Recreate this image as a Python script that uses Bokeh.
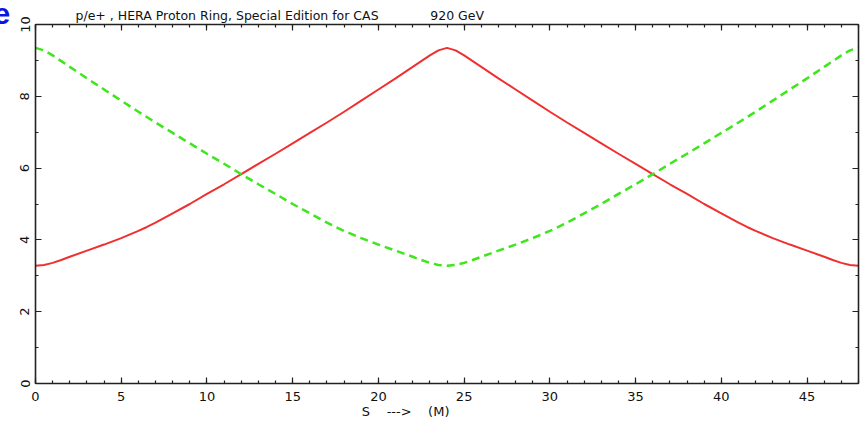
from bokeh.plotting import figure
from bokeh.models import (LinearAxis, SingleIntervalTicker, Range1d, Label, Title)
from bokeh.embed import file_html
from bokeh.resources import INLINE

# ---- data ----
s_red = [0, 0.5, 1, 1.5, 2, 3, 4, 5, 6, 6.5, 7, 8, 9, 10, 11, 12, 13, 14, 15,
         16, 17, 18, 19, 20, 21, 22, 22.5, 23, 23.5, 24,
         24.5, 25, 25.5, 26, 27, 28, 29, 30, 31, 32, 33, 34, 35, 36, 37, 38,
         39, 40, 41, 41.5, 42, 43, 44, 45, 46, 46.5, 47, 47.5, 48]
beta_red = [3.28, 3.30, 3.36, 3.44, 3.53, 3.70, 3.87, 4.05, 4.25, 4.36, 4.48,
            4.74, 5.00, 5.28, 5.55, 5.83, 6.12, 6.40, 6.69, 6.98, 7.27, 7.57,
            7.88, 8.19, 8.50, 8.82, 8.98, 9.14, 9.28, 9.35,
            9.28, 9.14, 8.98, 8.82, 8.50, 8.19, 7.88, 7.57, 7.27, 6.98, 6.69,
            6.40, 6.12, 5.83, 5.55, 5.28, 5.00, 4.74, 4.48, 4.36, 4.25, 4.05,
            3.87, 3.70, 3.53, 3.44, 3.36, 3.30, 3.28]

s_green = [0, 0.5, 1, 1.5, 2, 3, 4, 5, 6, 7, 8, 9, 10, 11, 12, 13, 14, 15, 16,
           17, 17.5, 18, 19, 20, 21, 22, 22.5, 23, 23.5, 24,
           24.5, 25, 25.5, 26, 27, 28, 29, 30, 30.5, 31, 32, 33, 34, 35, 36,
           37, 38, 39, 40, 41, 42, 43, 44, 45, 45.5, 46, 46.5, 47, 47.5, 48]
beta_green = [9.35, 9.28, 9.14, 8.98, 8.82, 8.50, 8.19, 7.88, 7.57, 7.27, 6.98,
              6.69, 6.40, 6.12, 5.83, 5.55, 5.28, 5.00, 4.74, 4.48, 4.36, 4.25,
              4.05, 3.87, 3.70, 3.53, 3.44, 3.36, 3.30, 3.28,
              3.30, 3.36, 3.44, 3.53, 3.70, 3.87, 4.05, 4.25, 4.36, 4.48, 4.74,
              5.00, 5.28, 5.55, 5.83, 6.12, 6.40, 6.69, 6.98, 7.27, 7.57, 7.88,
              8.19, 8.50, 8.66, 8.82, 8.98, 9.14, 9.28, 9.35]

title_left = "p/e+ , HERA Proton Ring, Special Edition for CAS"
title_right = "920 GeV"
NB = "\u00a0"
x_label = "S" + NB * 4 + "--->" + NB * 4 + "(M)"

FONT = "DejaVu Sans"
AX = "#222222"

p = figure(width=865, height=421, output_backend="svg", toolbar_location=None,
           x_range=Range1d(0, 48), y_range=Range1d(0, 10),
           x_axis_location=None, y_axis_location=None,
           min_border_left=34, min_border_right=7, min_border_top=24,
           min_border_bottom=37)
p.outline_line_color = None
p.xgrid.visible = False
p.ygrid.visible = False
p.background_fill_color = "white"
p.border_fill_color = "white"

p.title = Title(text=title_left + NB * 13 + title_right, align="left",
                offset=40, text_font=FONT, text_font_size="12.5px",
                text_font_style="normal", text_color="#111111", standoff=4)


def make_axis(kind, labels):
    if kind == "x":
        ax = LinearAxis(ticker=SingleIntervalTicker(interval=5, num_minor_ticks=5))
    else:
        ax = LinearAxis(ticker=SingleIntervalTicker(interval=2, num_minor_ticks=2))
    ax.axis_line_color = AX
    ax.axis_line_width = 1.6
    ax.major_tick_line_color = AX
    ax.minor_tick_line_color = AX
    ax.major_tick_line_width = 1.2
    ax.minor_tick_line_width = 1.2
    ax.major_tick_in = 6
    ax.major_tick_out = 0
    ax.minor_tick_in = 3
    ax.minor_tick_out = 0
    ax.major_label_text_font = FONT
    ax.major_label_text_font_size = "13px"
    ax.major_label_text_color = "#111111"
    if not labels:
        ax.major_label_text_alpha = 0
        ax.major_label_text_font_size = "1px"
        ax.major_label_standoff = 0
    return ax


xb = make_axis("x", True)
xb.major_label_standoff = 8
xb.axis_label = x_label + NB * 20
xb.axis_label_text_font = FONT
xb.axis_label_text_font_size = "13px"
xb.axis_label_text_font_style = "normal"
xb.axis_label_text_color = "#111111"
xb.axis_label_standoff = 0
yl = make_axis("y", True)
yl.major_label_orientation = "vertical"
yl.major_label_standoff = 6
xt = make_axis("x", False)
yr = make_axis("y", False)
p.add_layout(xb, "below")
p.add_layout(yl, "left")
p.add_layout(xt, "above")
p.add_layout(yr, "right")

p.line(s_red, beta_red, line_color="#f03030", line_width=2)
p.line(s_green, beta_green, line_color="#3ee61c", line_width=2.5,
       line_dash="8 5")

p.add_layout(Label(x=-7, y=13, x_units="canvas", y_units="canvas", text="e",
                   text_font="Liberation Sans", text_font_size="30px",
                   text_font_style="bold", text_color="#0a14e6",
                   text_baseline="alphabetic"), "left")

open("out.html", "w").write(file_html(p, INLINE))
